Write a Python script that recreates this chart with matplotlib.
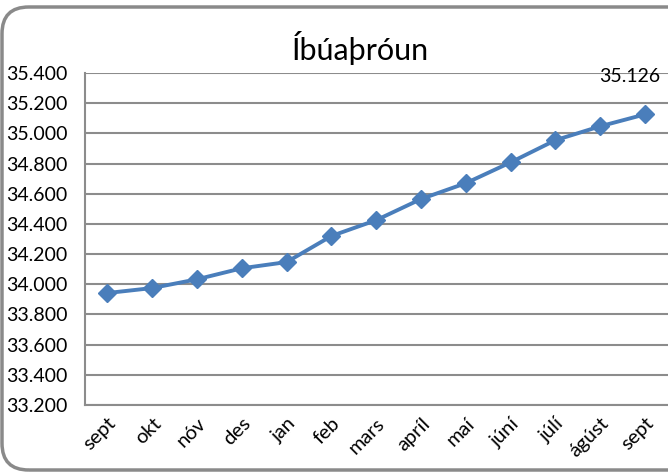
import matplotlib.pyplot as plt
from matplotlib.patches import FancyBboxPatch

months = ['sept', 'okt', 'nóv', 'des', 'jan', 'feb', 'mars', 'apríl',
          'maí', 'júní', 'júlí', 'ágúst', 'sept']
residents = [33942, 33975, 34033, 34106, 34147, 34320, 34425, 34565,
             34670, 34808, 34955, 35047, 35126]
yticks = [33200, 33400, 33600, 33800, 34000, 34200, 34400, 34600,
          34800, 35000, 35200, 35400]

plt.rcParams['font.family'] = ['Lato', 'DejaVu Sans']

W, H = 668, 475
fig = plt.figure(figsize=(W / 100, H / 100), dpi=100)

# rounded chart frame (cut off on the right like the original)
frame = FancyBboxPatch((2 / W, 5 / H), 700 / W, 463 / H,
                       boxstyle='round,pad=0,rounding_size=0.04',
                       transform=fig.transFigure, facecolor='none',
                       edgecolor='#8a8a8a', linewidth=2.5, zorder=-1,
                       mutation_aspect=W / H)
fig.patches.append(frame)

ax = fig.add_axes([85 / W, 70 / H, 582.5 / W, 332 / H])
ax.set_facecolor('none')

x = range(len(months))
ax.plot(x, residents, color='#4a7ebb', linewidth=2.8, marker='D',
        markersize=9.5, zorder=3, clip_on=False)

ax.set_xlim(-0.5, len(months) - 0.5)
ax.set_ylim(33200, 35400)
ax.set_yticks(yticks)
ax.set_yticklabels([f'{v // 1000}.{v % 1000:03d}' for v in yticks])
ax.set_xticks(list(x))
ax.set_xticklabels(months, rotation=45, ha='right', va='top',
                   rotation_mode='anchor')

ax.tick_params(axis='y', length=0, pad=57, labelsize=14)
ax.tick_params(axis='x', length=0, pad=7, labelsize=14.5)
for lbl in ax.get_yticklabels():
    lbl.set_horizontalalignment('left')

ax.grid(axis='y', color='#8c8c8c', linewidth=1.5)
ax.set_axisbelow(True)
for side in ['top', 'right']:
    ax.spines[side].set_visible(False)
for side in ['left', 'bottom']:
    ax.spines[side].set_color('#8c8c8c')
    ax.spines[side].set_linewidth(1.5)

last = residents[-1]
ax.annotate(f'{last // 1000}.{last % 1000:03d}', (len(months) - 1, last),
            xytext=(-11, 21), textcoords='offset points', ha='center',
            va='bottom', fontsize=14, annotation_clip=False)

fig.text(360 / W, 1 - 48 / H, 'Íbúaþróun', ha='center', va='center',
         fontsize=22)

fig.savefig('out.png', dpi=100)
